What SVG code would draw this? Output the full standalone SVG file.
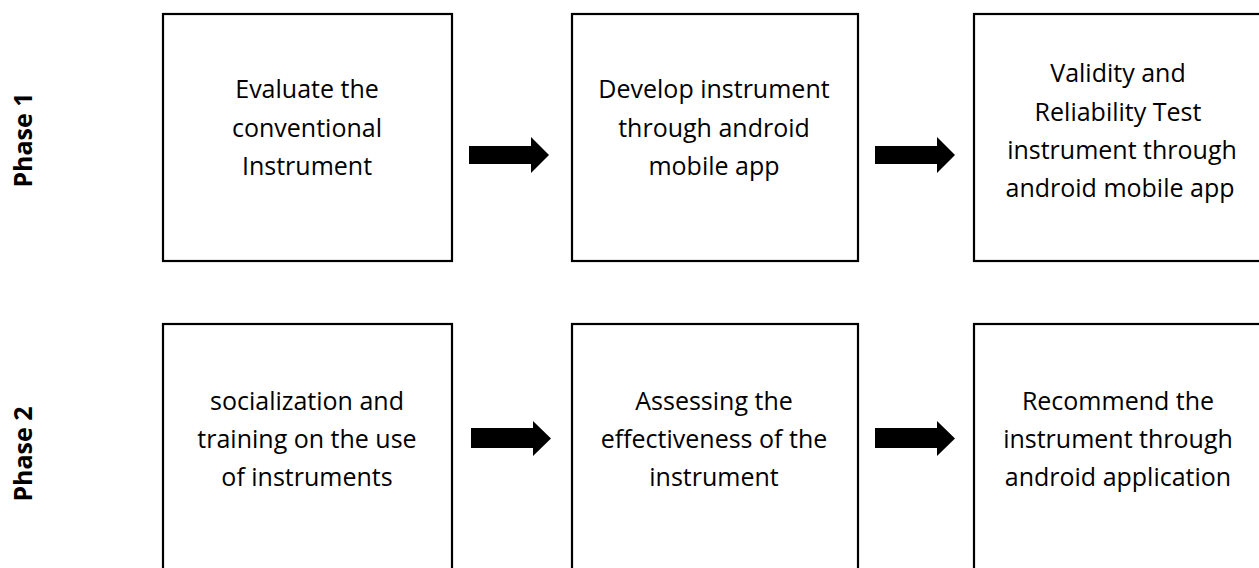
<svg xmlns="http://www.w3.org/2000/svg" width="1259" height="568" viewBox="0 0 1259 568">
<style>
.box{fill:#fff;stroke:#000;stroke-width:2.2}
.t{font-family:"Open Sans","Noto Sans",sans-serif;font-size:25px;fill:#000;text-anchor:middle}
.ph{font-family:"Open Sans","Noto Sans",sans-serif;font-size:25px;font-weight:bold;fill:#000;text-anchor:middle}
.arr{fill:#000}
</style>
<rect width="1259" height="568" fill="#fff"/>
<g id="phase1-label"><text class="ph" transform="translate(32,140) rotate(-90)">Phase 1</text></g>
<g id="phase2-label"><text class="ph" transform="translate(32,454) rotate(-90)">Phase 2</text></g>
<g id="n1"><rect class="box" x="163" y="14" width="289" height="247"/>
<text class="t" x="307" y="98">Evaluate the</text><text class="t" x="307" y="137">conventional</text><text class="t" x="307" y="175">Instrument</text></g>
<g id="n2"><rect class="box" x="572" y="14" width="286" height="247"/>
<text class="t" x="714" y="98">Develop instrument</text><text class="t" x="714" y="137">through android</text><text class="t" x="714" y="175">mobile app</text></g>
<g id="n3"><rect class="box" x="974" y="14" width="292" height="247"/>
<text class="t" x="1118" y="82">Validity and</text><text class="t" x="1118" y="121">Reliability Test</text><text class="t" x="1122" y="159">instrument through</text><text class="t" x="1120" y="197">android mobile app</text></g>
<g id="n4"><rect class="box" x="163" y="324" width="289" height="260"/>
<text class="t" x="307" y="410">socialization and</text><text class="t" x="307" y="448">training on the use</text><text class="t" x="307" y="486">of instruments</text></g>
<g id="n5"><rect class="box" x="572" y="324" width="286" height="260"/>
<text class="t" x="714" y="410">Assessing the</text><text class="t" x="714" y="448">effectiveness of the</text><text class="t" x="714" y="486">instrument</text></g>
<g id="n6"><rect class="box" x="974" y="324" width="292" height="260"/>
<text class="t" x="1118" y="410">Recommend the</text><text class="t" x="1118" y="448">instrument through</text><text class="t" x="1118" y="486">android application</text></g>
<g id="connectors">
<polygon class="arr" points="469,146 531,146 531,137 549,155 531,173 531,164 469,164"/>
<polygon class="arr" points="875,146 937,146 937,137 955,155 937,173 937,164 875,164"/>
<polygon class="arr" points="471,428 533,428 533,421 551,438.5 533,456 533,448 471,448"/>
<polygon class="arr" points="875,428 937,428 937,421 955,438.5 937,456 937,448 875,448"/>
</g>
</svg>
